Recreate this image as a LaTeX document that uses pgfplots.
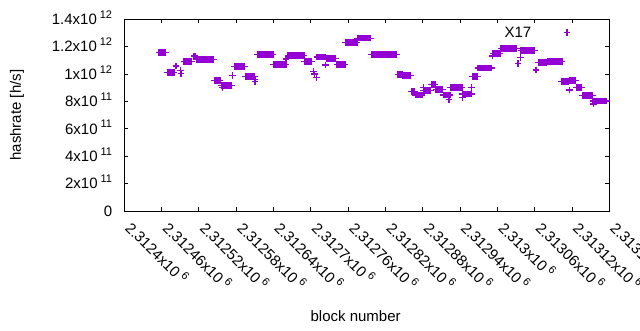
\documentclass[border=0pt]{standalone}
\usepackage{fontspec}
\setmainfont{Liberation Sans}
\usepackage{pgfplots}
\pgfplotsset{compat=1.18}
\definecolor{gpviolet}{HTML}{9400D3}
\newcommand\sci[2]{#1x10\hspace{0.2em}\raisebox{0.42em}{\fontsize{11}{11}\selectfont #2}}
\begin{document}
\begin{tikzpicture}[font=\fontsize{15}{18}\selectfont]
\path[use as bounding box] (0,0) rectangle (640pt,330pt);
\begin{axis}[
  at={(124.3pt,119pt)}, anchor=south west,
  scale only axis, width=485pt, height=191.7pt,
  xmin=2312400, xmax=2313180, ymin=0, ymax=1.4e12,
  xtick={2312400,2312460,2312520,2312580,2312640,2312700,2312760,2312820,2312880,2312940,2313000,2313060,2313120,2313180},
  xticklabels={\sci{2.3124}{6},\sci{2.31246}{6},\sci{2.31252}{6},\sci{2.31258}{6},\sci{2.31264}{6},\sci{2.3127}{6},\sci{2.31276}{6},\sci{2.31282}{6},\sci{2.31288}{6},\sci{2.31294}{6},\sci{2.313}{6},\sci{2.31306}{6},\sci{2.31312}{6},\sci{2.31318}{6}},
  ytick={0,2e11,4e11,6e11,8e11,1e12,1.2e12,1.4e12},
  yticklabels={0,\sci{2}{11},\sci{4}{11},\sci{6}{11},\sci{8}{11},\sci{1}{12},\sci{1.2}{12},\sci{1.4}{12}},
  scaled x ticks=false, scaled y ticks=false,
  tick align=inside, major tick length=4pt,
  axis line style={black, line width=0.9pt},
  tick style={black, line width=0.9pt},
  xticklabel style={rotate=-45, anchor=base west, inner sep=0pt},
  xticklabel shift=18pt,
  yticklabel style={anchor=base east, inner sep=0pt, yshift=-5.3pt},
  yticklabel shift=12pt,
  xlabel={block number}, ylabel={hashrate [h/s]},
  xlabel style={at={(axis description cs:0.477,-0.5477)}, anchor=center},
  ylabel style={at={(axis description cs:-0.2212,0.5)}, anchor=center},
  clip=false,
]
\addplot[only marks, mark=+, mark size=3.3pt, color=gpviolet, mark options={line width=1.3pt}] coordinates {
(2312456,1.158e12)(2312458,1.158e12)(2312460,1.158e12)(2312462,1.158e12)(2312464,1.158e12)(2312466,1.158e12)
(2312469,1.013e12)(2312471,1.013e12)(2312473,1.013e12)(2312475,1.013e12)(2312477,1.013e12)(2312479,1.013e12)(2312480,1.013e12)
(2312483,1.059e12)(2312490,1.025e12)(2312491,1.005e12)
(2312496,1.09e12)(2312498,1.09e12)(2312500,1.09e12)(2312502,1.09e12)(2312504,1.09e12)(2312506,1.09e12)(2312508,1.09e12)
(2312512,1.13e12)(2312513,1.132e12)(2312515,1.13e12)
(2312517,1.108e12)(2312519,1.108e12)(2312521,1.108e12)(2312523,1.108e12)(2312525,1.108e12)(2312527,1.108e12)(2312529,1.108e12)(2312531,1.108e12)(2312533,1.108e12)(2312535,1.108e12)(2312537,1.108e12)(2312539,1.108e12)(2312541,1.108e12)(2312543,1.108e12)(2312544,1.108e12)
(2312545,9.52e11)(2312547,9.52e11)(2312549,9.52e11)(2312551,9.52e11)(2312553,9.52e11)(2312554,9.52e11)
(2312556,9.18e11)(2312558,9.18e11)(2312560,9.18e11)(2312562,9.18e11)(2312564,9.18e11)(2312566,9.18e11)(2312568,9.18e11)(2312570,9.18e11)(2312572,9.18e11)(2312558,9.04e11)
(2312574,9.91e11)
(2312577,1.056e12)(2312579,1.056e12)(2312581,1.056e12)(2312583,1.056e12)(2312585,1.056e12)(2312587,1.056e12)(2312589,1.056e12)(2312591,1.056e12)(2312593,1.056e12)
(2312595,9.84e11)(2312597,9.84e11)(2312599,9.84e11)(2312601,9.84e11)(2312603,9.84e11)(2312605,9.84e11)(2312607,9.84e11)(2312609,9.84e11)
(2312610,9.62e11)(2312610,9.44e11)
(2312614,1.145e12)(2312616,1.145e12)(2312618,1.145e12)(2312620,1.145e12)(2312622,1.145e12)(2312624,1.145e12)(2312626,1.145e12)(2312628,1.145e12)(2312630,1.145e12)(2312632,1.145e12)(2312634,1.145e12)(2312636,1.145e12)(2312638,1.145e12)(2312639,1.145e12)
(2312640,1.069e12)(2312642,1.069e12)(2312644,1.069e12)(2312646,1.069e12)(2312648,1.069e12)(2312650,1.069e12)(2312652,1.069e12)(2312654,1.069e12)(2312656,1.069e12)(2312658,1.069e12)(2312660,1.069e12)
(2312660,1.11e12)
(2312663,1.134e12)(2312665,1.134e12)(2312667,1.134e12)(2312669,1.134e12)(2312671,1.134e12)(2312673,1.134e12)(2312675,1.134e12)(2312677,1.134e12)(2312679,1.134e12)(2312681,1.134e12)(2312683,1.134e12)(2312685,1.134e12)(2312687,1.134e12)(2312689,1.134e12)
(2312690,1.092e12)(2312692,1.092e12)(2312694,1.092e12)(2312696,1.092e12)(2312698,1.092e12)(2312700,1.092e12)(2312701,1.092e12)
(2312704,1.018e12)(2312706,1.0e12)(2312709,9.77e11)
(2312710,1.124e12)(2312712,1.124e12)(2312714,1.124e12)(2312716,1.124e12)(2312718,1.124e12)(2312720,1.124e12)(2312722,1.124e12)(2312723,1.124e12)
(2312724,1.066e12)
(2312726,1.115e12)(2312728,1.115e12)(2312730,1.115e12)(2312732,1.115e12)(2312734,1.115e12)(2312736,1.115e12)(2312738,1.115e12)(2312740,1.115e12)
(2312742,1.072e12)(2312744,1.072e12)(2312746,1.072e12)(2312748,1.072e12)(2312750,1.072e12)(2312752,1.072e12)(2312754,1.072e12)(2312755,1.072e12)
(2312756,1.232e12)(2312758,1.232e12)(2312760,1.232e12)(2312762,1.232e12)(2312764,1.232e12)(2312766,1.232e12)(2312768,1.232e12)(2312770,1.232e12)(2312772,1.232e12)(2312774,1.232e12)
(2312775,1.262e12)(2312777,1.262e12)(2312779,1.262e12)(2312781,1.262e12)(2312783,1.262e12)(2312785,1.262e12)(2312787,1.262e12)(2312789,1.262e12)(2312791,1.262e12)(2312793,1.262e12)(2312795,1.262e12)(2312796,1.262e12)
(2312797,1.145e12)(2312799,1.145e12)(2312801,1.145e12)(2312803,1.145e12)(2312805,1.145e12)(2312807,1.145e12)(2312809,1.145e12)(2312811,1.145e12)(2312813,1.145e12)(2312815,1.145e12)(2312817,1.145e12)(2312819,1.145e12)(2312821,1.145e12)(2312823,1.145e12)(2312825,1.145e12)(2312827,1.145e12)(2312829,1.145e12)(2312831,1.145e12)(2312833,1.145e12)(2312835,1.145e12)(2312837,1.145e12)(2312838,1.145e12)
(2312840,9.97e11)(2312842,9.97e11)(2312844,9.97e11)(2312846,9.97e11)(2312847,9.97e11)
(2312848,9.88e11)(2312850,9.88e11)(2312852,9.88e11)(2312854,9.88e11)(2312856,9.88e11)(2312858,9.88e11)(2312860,9.88e11)
(2312862,8.74e11)(2312864,8.74e11)(2312866,8.74e11)(2312867,8.74e11)
(2312868,8.47e11)(2312870,8.47e11)(2312872,8.47e11)(2312874,8.47e11)(2312876,8.47e11)(2312878,8.47e11)(2312879,8.47e11)
(2312881,9.04e11)
(2312881,8.78e11)(2312883,8.78e11)(2312885,8.78e11)(2312887,8.78e11)(2312889,8.78e11)(2312891,8.78e11)(2312893,8.78e11)
(2312894,9.24e11)(2312896,9.24e11)(2312898,9.24e11)(2312900,9.24e11)
(2312901,8.89e11)(2312903,8.89e11)(2312905,8.89e11)(2312907,8.89e11)(2312909,8.89e11)(2312911,8.89e11)(2312912,8.89e11)
(2312913,8.47e11)(2312915,8.47e11)(2312917,8.47e11)(2312919,8.47e11)(2312921,8.47e11)(2312923,8.47e11)(2312924,8.47e11)(2312922,8.16e11)
(2312925,9.0e11)(2312927,9.0e11)(2312929,9.0e11)(2312931,9.0e11)(2312933,9.0e11)(2312935,9.0e11)(2312937,9.0e11)(2312939,9.0e11)(2312941,9.0e11)(2312943,9.0e11)
(2312944,8.55e11)(2312946,8.55e11)(2312948,8.55e11)(2312950,8.55e11)(2312952,8.55e11)(2312954,8.55e11)(2312956,8.55e11)(2312958,8.55e11)(2312944,8.3e11)(2312958,9.04e11)
(2312960,9.84e11)(2312962,9.84e11)(2312964,9.84e11)(2312966,9.84e11)(2312968,9.84e11)
(2312969,1.045e12)(2312971,1.045e12)(2312973,1.045e12)(2312975,1.045e12)(2312977,1.045e12)(2312979,1.045e12)(2312981,1.045e12)(2312983,1.045e12)(2312985,1.045e12)(2312987,1.045e12)(2312989,1.045e12)(2312991,1.045e12)
(2312992,1.132e12)
(2312993,1.149e12)(2312995,1.149e12)(2312997,1.149e12)(2312999,1.149e12)(2313001,1.149e12)(2313003,1.149e12)(2313004,1.149e12)
(2313006,1.188e12)(2313008,1.188e12)(2313010,1.188e12)(2313012,1.188e12)(2313014,1.188e12)(2313016,1.188e12)(2313018,1.188e12)(2313020,1.188e12)(2313022,1.188e12)(2313024,1.188e12)(2313026,1.188e12)(2313028,1.188e12)(2313030,1.188e12)(2313031,1.188e12)
(2313033,1.079e12)(2313037,1.123e12)
(2313038,1.172e12)(2313040,1.172e12)(2313042,1.172e12)(2313044,1.172e12)(2313046,1.172e12)(2313048,1.172e12)(2313050,1.172e12)(2313052,1.172e12)(2313054,1.172e12)(2313056,1.172e12)(2313058,1.172e12)(2313060,1.172e12)
(2313062,1.03e12)
(2313066,1.083e12)(2313068,1.083e12)(2313070,1.083e12)(2313072,1.083e12)(2313074,1.083e12)(2313076,1.083e12)(2313078,1.083e12)(2313079,1.083e12)
(2313081,1.092e12)(2313083,1.092e12)(2313085,1.092e12)(2313087,1.092e12)(2313089,1.092e12)(2313091,1.092e12)(2313093,1.092e12)(2313095,1.092e12)(2313097,1.092e12)(2313099,1.092e12)(2313101,1.092e12)(2313103,1.092e12)(2313104,1.092e12)
(2313112,1.305e12)
(2313103,9.46e11)(2313105,9.46e11)(2313107,9.46e11)(2313109,9.46e11)(2313111,9.46e11)(2313113,9.46e11)(2313114,9.46e11)
(2313116,8.84e11)
(2313117,9.53e11)(2313119,9.53e11)(2313121,9.53e11)(2313123,9.53e11)(2313125,9.53e11)(2313126,9.53e11)
(2313127,9.04e11)(2313129,9.04e11)(2313131,9.04e11)(2313133,9.04e11)(2313135,9.04e11)
(2313137,8.45e11)(2313139,8.45e11)(2313141,8.45e11)(2313143,8.45e11)(2313145,8.45e11)(2313147,8.45e11)(2313149,8.45e11)(2313151,8.45e11)(2313153,8.45e11)
(2313154,8.03e11)(2313156,8.03e11)(2313158,8.03e11)(2313160,8.03e11)(2313162,8.03e11)(2313164,8.03e11)(2313166,8.03e11)(2313168,8.03e11)(2313170,8.03e11)(2313172,8.03e11)(2313174,8.03e11)(2313176,8.03e11)(2313155,7.82e11)
};
\node[font=\fontsize{15}{18}\selectfont] at (axis cs:2313033,1.3075e12) {X17};
\end{axis}
\end{tikzpicture}
\end{document}
